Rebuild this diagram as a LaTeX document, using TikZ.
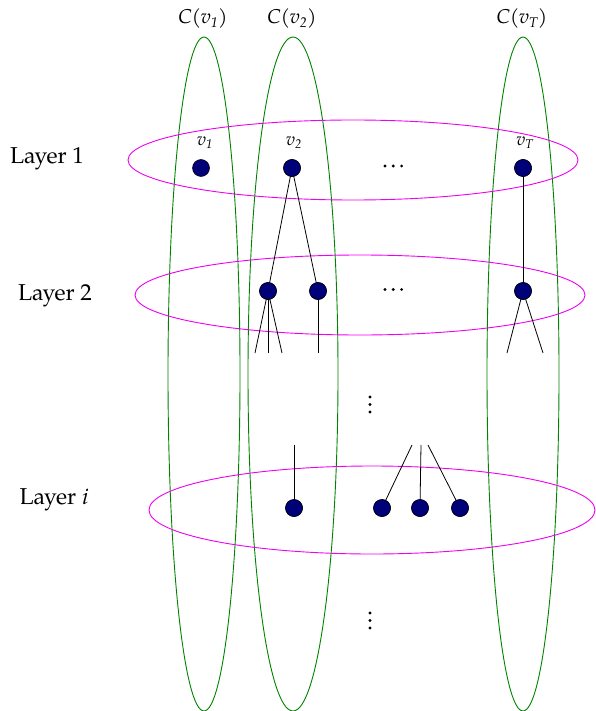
\documentclass[tikz,border=0pt]{standalone}
\usepackage{fontspec}
\setmainfont{TeX Gyre Pagella}
\definecolor{navyfill}{RGB}{0,0,120}
\definecolor{layermag}{RGB}{240,0,240}
\definecolor{cgreen}{RGB}{0,130,0}
\newcommand{\sbs}[1]{\textsubscript{\itshape #1}}
\begin{document}
\begin{tikzpicture}[x=1pt,y=-1pt,
  vtx/.style={circle,draw=black,line width=0.5pt,fill=navyfill,minimum size=17pt,inner sep=0pt},
  layerring/.style={draw=layermag,line width=0.9pt},
  clusterring/.style={draw=cgreen,line width=0.9pt},
  edge/.style={draw=black,line width=0.8pt},
  lbl/.style={font=\fontsize{23}{26}\selectfont},
  clbl/.style={font=\fontsize{20}{24}\selectfont\itshape},
  vlbl/.style={font=\fontsize{18}{21}\selectfont\itshape},
  dotmark/.style={fill=black}]
\useasboundingbox (0,0) rectangle (595,711);
% cluster ellipses
\draw[clusterring] (204,374) ellipse [x radius=36, y radius=337];
\draw[clusterring] (293,374) ellipse [x radius=45, y radius=337];
\draw[clusterring] (523,374) ellipse [x radius=36, y radius=337];
% layer ellipses
\draw[layerring] (353,160) ellipse [x radius=225, y radius=40];
\draw[layerring] (360,295) ellipse [x radius=225, y radius=40];
\draw[layerring] (372,510) ellipse [x radius=223, y radius=44];
% labels
\node[clbl] (c1) at (203,19) {C(v\sbs{1})};
\node[clbl] (c2) at (292,19) {C(v\sbs{2})};
\node[clbl] (cT) at (522,19) {C(v\sbs{T})};
\node[lbl] (l1) at (47,159) {Layer 1};
\node[lbl] (l2) at (55,296) {Layer 2};
\node[lbl] (li) at (54,500) {Layer \textit{i}};
% layer 1
\node[vtx] (v1) at (201,168) {};
\node[vtx] (v2) at (292,168) {};
\node[vtx] (vT) at (523,168) {};
\node[vlbl] (v1l) at (205,143) {v\sbs{1}};
\node[vlbl] (v2l) at (294,143) {v\sbs{2}};
\node[vlbl] (vTl) at (525,143) {v\sbs{T}};
\foreach \xx in {385,393.3,401.6} \fill[dotmark] (\xx,166) circle (1.6);
% layer 2
\node[vtx] (a) at (268,291) {};
\node[vtx] (b) at (318,291) {};
\node[vtx] (c) at (523,291) {};
\foreach \xx in {385,393.3,401.6} \fill[dotmark] (\xx,289.5) circle (1.6);
\draw[edge] (v2.center) -- (a.center);
\draw[edge] (v2.center) -- (b.center);
\draw[edge] (vT.center) -- (c.center);
\coordinate (a1) at (255,353);
\coordinate (a2) at (268,353);
\coordinate (a3) at (282,353);
\coordinate (b1) at (318,353);
\coordinate (c1e) at (507,353);
\coordinate (c2e) at (543,353);
\draw[edge] (a.center) -- (a1);
\draw[edge] (a.center) -- (a2);
\draw[edge] (a.center) -- (a3);
\draw[edge] (b.center) -- (b1);
\draw[edge] (c.center) -- (c1e);
\draw[edge] (c.center) -- (c2e);
% re-draw nodes over edges
\node[vtx] at (v2) {};
\node[vtx] at (a) {};
\node[vtx] at (b) {};
\node[vtx] at (vT) {};
\node[vtx] at (c) {};
% vertical dots
\foreach \yy in {397,404.5,412} \fill[dotmark] (370,\yy) circle (1.6);
\foreach \yy in {613,620.5,628} \fill[dotmark] (370,\yy) circle (1.6);
% layer i
\node[vtx] (p) at (294,508) {};
\node[vtx] (q) at (382,508) {};
\node[vtx] (r) at (420,508) {};
\node[vtx] (s) at (460,508) {};
\coordinate (pt) at (294,445);
\coordinate (qt) at (412,445);
\coordinate (rt) at (421,445);
\coordinate (st) at (428,445);
\draw[edge] (p.center) -- (pt);
\draw[edge] (q.center) -- (qt);
\draw[edge] (r.center) -- (rt);
\draw[edge] (s.center) -- (st);
\node[vtx] at (p) {};
\node[vtx] at (q) {};
\node[vtx] at (r) {};
\node[vtx] at (s) {};
\end{tikzpicture}
\end{document}
